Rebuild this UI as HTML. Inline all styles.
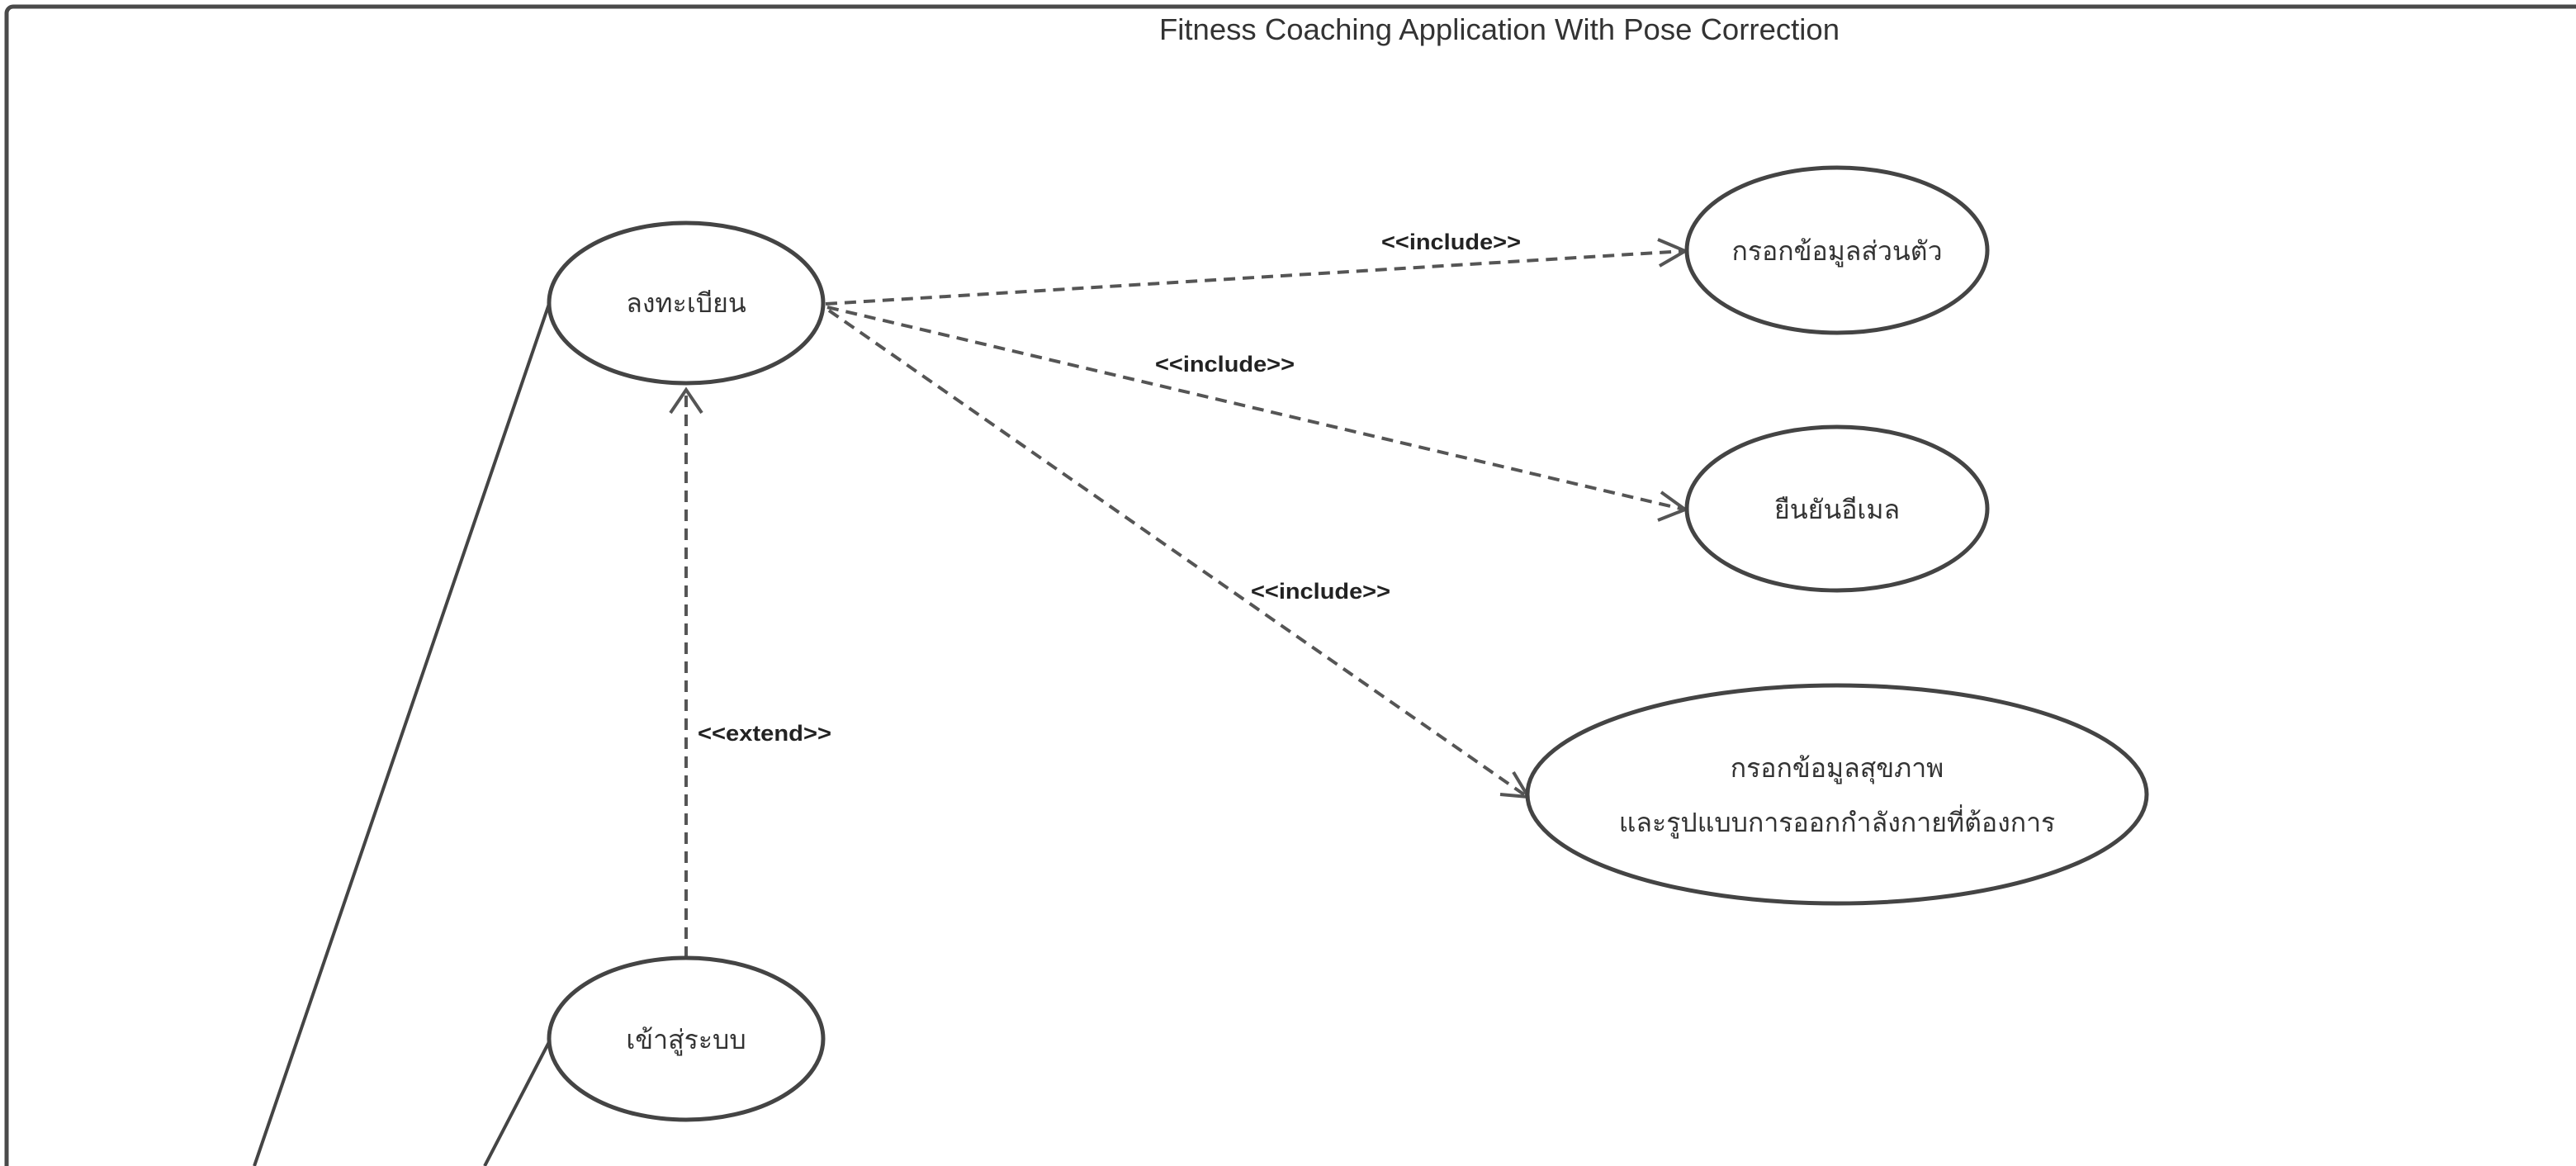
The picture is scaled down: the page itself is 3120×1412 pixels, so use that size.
<!DOCTYPE html>
<html><head><meta charset="utf-8"><style>
html,body{margin:0;padding:0;background:#fff;}
svg{display:block;}
</style></head><body>
<svg width="3120" height="1412" viewBox="0 0 3120 1412" xmlns="http://www.w3.org/2000/svg">
<rect x="8" y="8" width="3140" height="1460" rx="8" fill="#fff" stroke="#4a4a4a" stroke-width="5"/>
<text x="1816" y="48" text-anchor="middle" font-family="Liberation Sans, sans-serif" font-size="36" fill="#333" textLength="824" lengthAdjust="spacingAndGlyphs">Fitness Coaching Application With Pose Correction</text>
<g fill="none" stroke="#444" stroke-width="4">
<line x1="665" y1="368" x2="308" y2="1412"/>
<line x1="667" y1="1258" x2="587" y2="1412"/>
</g>
<g fill="none" stroke="#555" stroke-width="4" stroke-dasharray="14 9">
<line x1="831" y1="1160" x2="831" y2="472"/>
<line x1="1000" y1="368" x2="2040" y2="304"/>
<line x1="1002" y1="372" x2="2040" y2="617"/>
<line x1="1004" y1="376" x2="1850" y2="965"/>
</g>
<g fill="none" stroke="#555" stroke-width="4" stroke-linejoin="miter">
<polyline points="812,500 831,472 850,500"/>
<polyline points="2008,290 2041,304 2010,322"/>
<polyline points="2012,596 2041,617 2008,630"/>
<polyline points="1833,935 1851,965 1817,962"/>
</g>
<g fill="#fff" stroke="#444" stroke-width="5">
<ellipse cx="831" cy="367" rx="166" ry="97"/>
<ellipse cx="831" cy="1258" rx="166" ry="98"/>
<ellipse cx="2225" cy="303" rx="182" ry="100"/>
<ellipse cx="2225" cy="616" rx="182" ry="99"/>
<ellipse cx="2225" cy="962" rx="375" ry="132"/>
</g>
<g font-family="Liberation Sans, Noto Sans CJK SC, sans-serif" font-size="32" fill="#333" text-anchor="middle">
<text x="831" y="378">ลงทะเบียน</text>
<text x="831" y="1270">เข้าสู่ระบบ</text>
<text x="2225" y="315">กรอกข้อมูลส่วนตัว</text>
<text x="2225" y="628">ยืนยันอีเมล</text>
<text x="2225" y="941">กรอกข้อมูลสุขภาพ</text>
<text x="2225" y="1007">และรูปแบบการออกกำลังกายที่ต้องการ</text>
</g>
<g font-family="Liberation Sans, sans-serif" font-size="27" font-weight="bold" fill="#222">
<text x="1673" y="302" textLength="169" lengthAdjust="spacingAndGlyphs">&lt;&lt;include&gt;&gt;</text>
<text x="1399" y="450" textLength="169" lengthAdjust="spacingAndGlyphs">&lt;&lt;include&gt;&gt;</text>
<text x="1515" y="725" textLength="169" lengthAdjust="spacingAndGlyphs">&lt;&lt;include&gt;&gt;</text>
<text x="845" y="897" textLength="162" lengthAdjust="spacingAndGlyphs">&lt;&lt;extend&gt;&gt;</text>
</g>
</svg>
</body></html>
